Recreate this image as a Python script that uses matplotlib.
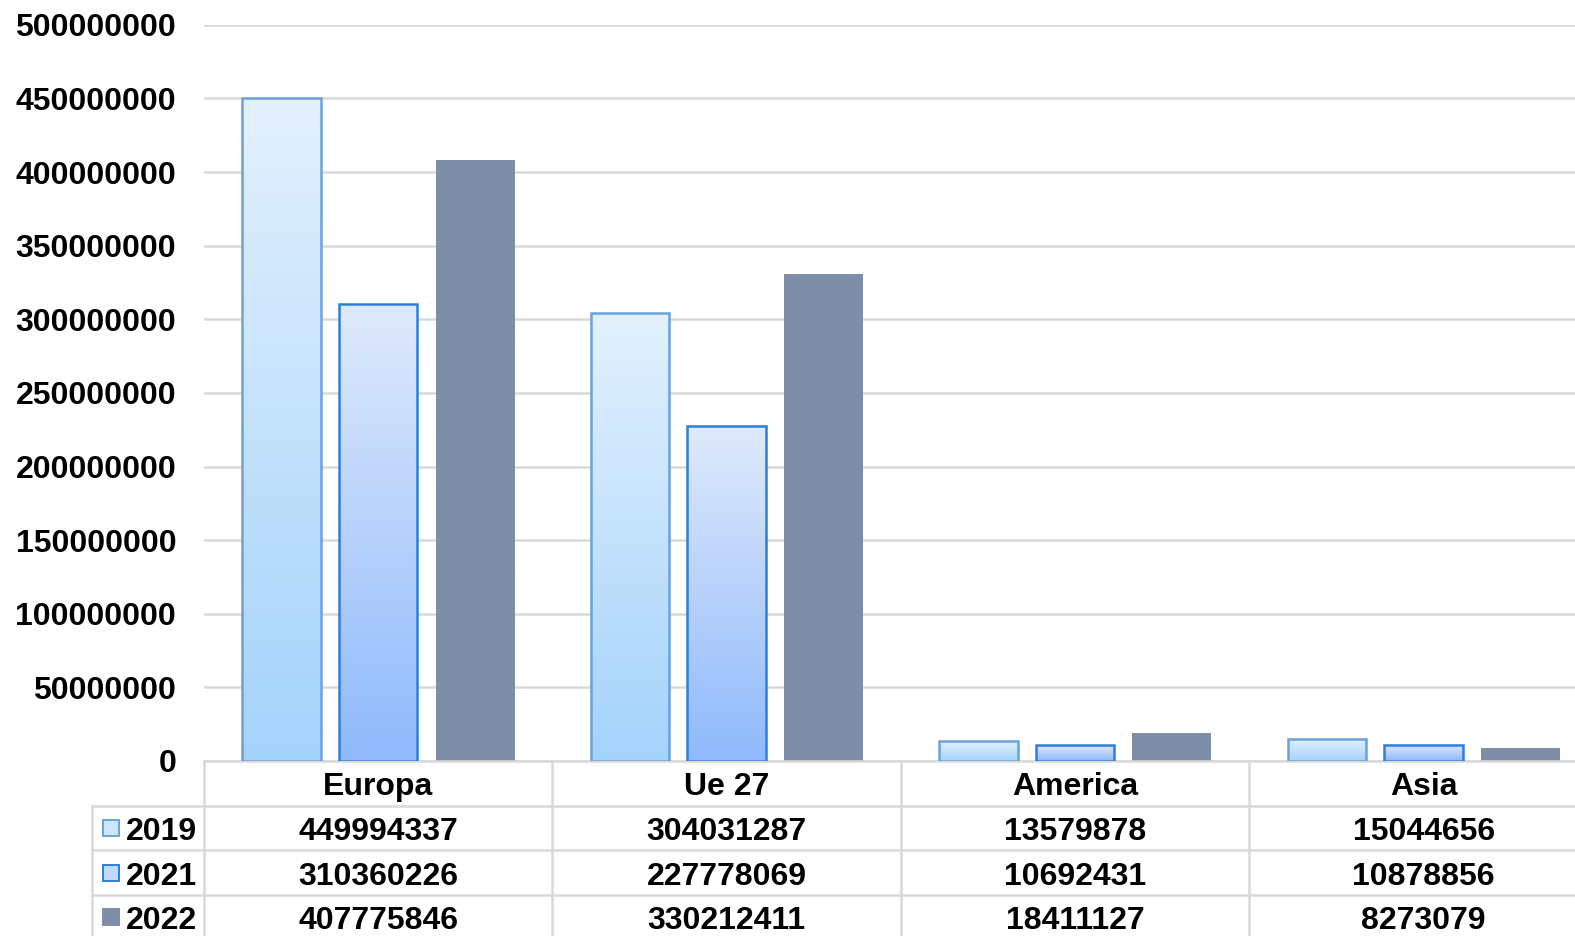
import numpy as np
import matplotlib
matplotlib.use("Agg")
import matplotlib.pyplot as plt
from matplotlib.colors import LinearSegmentedColormap
from matplotlib.ticker import FuncFormatter

plt.rcParams['font.family'] = ['Liberation Sans', 'DejaVu Sans']
plt.rcParams['font.weight'] = 'bold'

# data
categories = ['Europa', 'Ue 27', 'America', 'Asia']
years = ['2019', '2021', '2022']
values_2019 = [449994337, 304031287, 13579878, 15044656]
values_2021 = [310360226, 227778069, 10692431, 10878856]
values_2022 = [407775846, 330212411, 18411127, 8273079]
series = [values_2019, values_2021, values_2022]

# styles per series: (top colour, bottom colour, edge colour)
styles = [
    ('#e3f1fd', '#a4d3fb', '#6aa3d9'),
    ('#dfeafc', '#8fb9fb', '#2f7ed8'),
    ('#7f8ea8', '#7f8ea8', '#7f8ea8'),
]
grid_col = '#d9d9d9'
fs = 23

fig = plt.figure(figsize=(15.75, 9.36), dpi=100)
ax = fig.add_axes([0.1295, 0.187, 0.885, 0.7865])

x = np.arange(len(categories)) + 0.5
width = 0.225
offsets = [-0.277, 0.0, 0.277]

for vals, off, (top, bot, edge) in zip(series, offsets, styles):
    cmap = LinearSegmentedColormap.from_list('g', [bot, top])
    grad = np.linspace(0, 1, 256).reshape(-1, 1)
    for xi, v in zip(x, vals):
        left = xi + off - width / 2
        ax.imshow(grad, cmap=cmap, origin='lower', aspect='auto',
                  extent=[left, left + width, 0, v], zorder=2)
        ax.bar(xi + off, v, width, facecolor='none', edgecolor=edge,
               linewidth=1.8 if edge != top else 0, zorder=3)

ax.set_xlim(0, 4)
ax.set_ylim(0, 500000000)

ax.set_yticks(np.arange(0, 500000001, 50000000))
ax.yaxis.set_major_formatter(FuncFormatter(lambda v, p: f'{int(v)}'))
ax.tick_params(axis='y', length=0, pad=20, labelsize=fs)
ax.set_xticks([])
for lab in ax.get_yticklabels():
    lab.set_fontweight('bold')
ax.grid(axis='y', color=grid_col, linewidth=1.8, zorder=0)
ax.set_axisbelow(True)
for s in ['top', 'right', 'left']:
    ax.spines[s].set_visible(False)
ax.spines['bottom'].set_color(grid_col)
ax.spines['bottom'].set_linewidth(1.8)

# data table below the axis
tr = ax.get_xaxis_transform()
h = 0.0607
dy = 0.0055
leg_left = -0.32
ax.plot([0, 0], [0, -5 * h], color=grid_col, lw=1.8, transform=tr, clip_on=False)
for c in range(1, 5):
    ax.plot([c, c], [0, -5 * h], color=grid_col, lw=1.8, transform=tr, clip_on=False)
for r in range(1, 4):
    ax.plot([leg_left, 4], [-r * h, -r * h], color=grid_col, lw=1.8,
            transform=tr, clip_on=False)
ax.plot([leg_left, leg_left], [-h, -5 * h], color=grid_col, lw=1.8,
        transform=tr, clip_on=False)

for xi, cat in zip(x, categories):
    ax.text(xi, -0.5 * h - dy, cat, transform=tr, ha='center', va='center',
            fontsize=fs, fontweight='bold')

marker_fill = ['#cde6fc', '#c2d8fc', '#7f8ea8']
for r, (yr, vals, (top, bot, edge)) in enumerate(zip(years, series, styles)):
    yc = -(r + 1.5) * h
    ax.plot([-0.268], [yc], marker='s', markersize=11, markerfacecolor=marker_fill[r],
            markeredgecolor=edge, markeredgewidth=1.4, transform=tr, clip_on=False)
    ax.text(-0.224, yc - dy, yr, transform=tr, ha='left', va='center',
            fontsize=fs, fontweight='bold')
    for xi, v in zip(x, vals):
        ax.text(xi, yc - dy, f'{v}', transform=tr, ha='center', va='center',
                fontsize=fs, fontweight='bold')

fig.savefig('out.png', dpi=100)
